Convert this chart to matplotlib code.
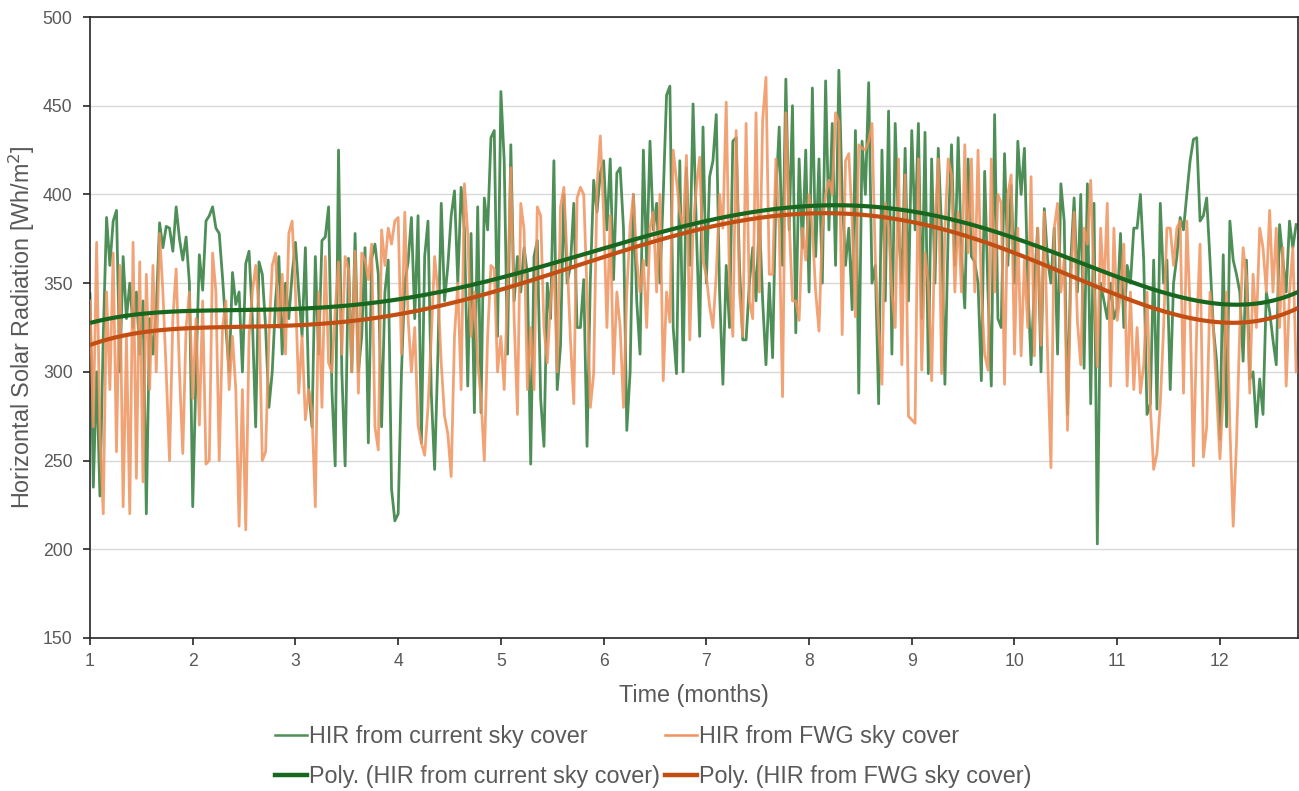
import numpy as np
import matplotlib
matplotlib.use("Agg")
import matplotlib.pyplot as plt
from matplotlib.lines import Line2D

# ---------------- data (daily values) ----------------
hir_current = [
    344, 235, 300, 230, 320, 387, 360, 385, 391, 300, 365, 330, 350, 325, 345, 310,
    340, 220, 330, 310, 335, 384, 370, 382, 381, 368, 393, 375, 363, 376, 350, 224,
    300, 366, 346, 385, 388, 393, 381, 378, 353, 325, 300, 356, 338, 345, 300, 361,
    368, 330, 269, 362, 355, 325, 280, 300, 340, 365, 310, 350, 330, 355, 373, 345,
    320, 370, 290, 269, 365, 310, 374, 376, 393, 290, 247, 425, 300, 247, 364, 300,
    378, 300, 320, 370, 260, 364, 372, 355, 269, 345, 363, 234, 216, 220,
    300, 350, 362, 387, 330, 388, 260, 365, 385, 288, 245, 310, 395, 340, 360, 388,
    402, 350, 404, 380, 292, 378, 277, 393, 277, 398, 380, 432, 436, 320, 458, 419,
    310, 428, 340, 365, 345, 370, 355, 248, 365, 374, 285, 258, 350, 330, 419,
    290, 315, 400, 350, 360, 395, 325, 325, 352, 258, 352, 408, 390, 412, 419, 380,
    420, 352, 412, 415, 381, 267, 300,
    400, 340, 310, 425, 360, 430, 380, 395, 350, 400, 456, 461, 325, 299, 419, 300,
    415, 360, 451, 380, 320, 438, 350, 410,
    419, 445, 345, 293, 360, 325, 430, 432, 360, 318, 318, 350, 370, 340, 388, 340,
    304, 350, 308,
    400, 438, 360, 465, 380, 450, 322, 420, 370, 425, 345, 460, 365, 420, 350, 464,
    380, 440, 360, 470, 400, 360, 381, 335, 436, 288, 430,
    400, 463, 350, 360, 282, 425, 340, 447, 310, 440, 380, 350, 426, 340, 436, 380,
    440, 330, 435, 299, 420, 350, 426, 380, 293, 380, 428, 360, 432, 365, 336, 420,
    365, 362, 350, 295, 413, 345, 292, 445, 330, 325, 423, 360, 405, 350, 430,
    400, 426, 350, 304, 350, 381, 300, 392, 363, 350, 381, 310, 406, 385, 276, 363,
    398, 345, 400, 302, 406, 282, 395, 203, 350, 340, 330, 350, 330, 336, 378, 325,
    360, 350, 381, 381, 400, 363, 276, 282, 363, 279, 395, 350, 363, 290, 350,
    365, 387, 380, 400, 419, 431, 432, 385, 388, 398, 363, 325, 306, 262, 366, 269,
    385, 363, 355, 345, 306, 363, 296, 300, 269, 296, 276, 345, 334, 318, 304, 383,
    363, 345, 385, 370, 383,
]

hir_fwg = [
    340, 269, 373, 265, 220, 345, 290, 367, 255, 360, 224, 320, 220, 373, 240, 362,
    238, 355, 290, 360, 300, 378, 345, 300, 250, 330, 358, 300, 254, 325, 345, 285,
    330, 270, 340, 248, 250, 367, 345, 250, 325, 340, 290, 320, 290, 213, 290, 211,
    320, 345, 360, 335, 250, 255, 320, 360, 367, 325, 355, 310, 378, 385, 345, 288,
    320, 273, 290, 277, 224, 345, 280, 365, 305, 300, 335, 362, 310, 365, 358, 300,
    368, 288, 367, 363, 352, 372, 269, 256, 380, 360, 381, 372, 385, 387,
    310, 390, 330, 300, 325, 270, 260, 253, 280, 320, 365, 345, 305, 275, 265, 241,
    320, 350, 290, 406, 378, 320, 345, 305, 285, 250, 320, 360, 358, 300, 320, 290,
    345, 415, 330, 276, 395, 380, 290, 325, 290, 393, 388, 325, 305, 340, 360,
    300, 393, 404, 363, 318, 282, 398, 404, 400, 345, 280, 299, 404, 433, 390, 325,
    388, 299, 345, 325, 280, 345, 382, 400, 363, 345, 363, 325, 381, 390, 345, 400,
    295, 345, 328, 425, 408, 390, 381, 422, 318, 381, 404, 421, 363, 354, 337,
    325, 355, 400, 381, 452, 350, 320, 436, 345, 320, 440, 340, 330, 446, 345, 442,
    466, 355, 355, 420, 381, 286, 446, 385, 340, 340, 329, 381, 363, 400, 381, 345,
    323, 381, 400, 408, 400, 446, 441, 321, 419, 423, 385, 331, 428, 426,
    425, 430, 440, 363, 325, 293, 395, 381, 345, 325, 420, 304, 411, 275, 273, 271,
    420, 301, 367, 350, 295, 381, 420, 299, 381, 420, 411, 345, 390, 345, 428, 367,
    420, 345, 425, 345, 310, 301, 420, 345, 400, 395, 293, 400, 411, 310, 381,
    309, 363, 325, 410, 309, 381, 315, 390, 309, 246, 381, 395, 345, 363, 267, 350,
    390, 328, 304, 381, 372, 408, 350, 303, 381, 345, 395, 292, 381, 329, 345, 372,
    292, 345, 290, 325, 288, 304, 345, 280, 245, 254, 282, 325, 381, 381, 360,
    381, 385, 288, 385, 335, 247, 325, 372, 252, 269, 345, 325, 288, 251, 288, 345,
    269, 213, 260, 325, 370, 353, 288, 355, 325, 381, 370, 345, 391, 345, 381, 325,
    370, 292, 345, 370, 300,
]

# polynomial trendline values (month -> value)
trend_months = [1.0, 1.5, 2.0, 2.5, 3.0, 3.5, 4.0, 4.5, 5.0, 5.5, 6.0, 6.5, 7.0,
                7.5, 8.0, 8.5, 9.0, 9.5, 10.0, 10.5, 11.0, 11.5, 12.0, 12.5, 12.76]
trend_current = [328, 332, 334, 335, 336, 338, 341, 346, 352, 361, 369, 378, 386,
                 391, 393.5, 393.5, 390, 384, 375, 365, 354, 344, 338, 340, 345]
trend_fwg = [316, 321, 324, 325.5, 327, 329.5, 333, 338.5, 345, 354.5, 364, 373, 382,
             388, 390, 389.5, 384, 376, 366, 355, 344, 334, 328, 330, 336]

month_ticks = list(range(1, 13))
y_ticks = [150, 200, 250, 300, 350, 400, 450, 500]
labels = ["HIR from current sky cover", "HIR from FWG sky cover",
          "Poly. (HIR from current sky cover)", "Poly. (HIR from FWG sky cover)"]

# ---------------- styling ----------------
FONT = ["Liberation Sans", "DejaVu Sans"]
plt.rcParams["font.family"] = FONT
TXT = "#595959"
C_GREEN = "#4E8F58"
C_ORANGE = "#F0935E"
C_GREEN_T = "#17671F"
C_ORANGE_T = "#C24E14"

fig = plt.figure(figsize=(12.99, 7.91), dpi=100)
ax = fig.add_axes([90 / 1299, 1 - 638 / 791, (1298 - 90) / 1299, (638 - 17) / 791])

def days_to_month(n):
    return 1 + np.arange(n) / 31.0

x_g = days_to_month(len(hir_current))
x_f = days_to_month(len(hir_fwg))

ax.plot(x_g, hir_current, color=C_GREEN, lw=2.0, zorder=2)
ax.plot(x_f, hir_fwg, color=C_ORANGE, lw=2.0, alpha=0.85, zorder=3)

# 6th-order polynomial trendlines through the read trend values
xs = np.linspace(trend_months[0], trend_months[-1], 400)
pg = np.polyfit(trend_months, trend_current, 6)
pf = np.polyfit(trend_months, trend_fwg, 6)
ax.plot(xs, np.polyval(pg, xs), color=C_GREEN_T, lw=3.0, zorder=4, solid_capstyle="butt")
ax.plot(xs, np.polyval(pf, xs), color=C_ORANGE_T, lw=3.0, zorder=4, solid_capstyle="butt")

ax.set_xlim(1, 12.76)
ax.set_ylim(150, 500)
ax.set_xticks(month_ticks)
ax.set_yticks(y_ticks)
ax.grid(axis="y", color="#D9D9D9", lw=1.0, zorder=0)
ax.set_axisbelow(True)
for s in ax.spines.values():
    s.set_color("#262626")
    s.set_linewidth(1.2)
ax.tick_params(axis="both", direction="out", length=5, width=1.2, color="#262626",
               labelcolor=TXT, labelsize=12.7)
ax.tick_params(axis="y", pad=7.5)
ax.tick_params(axis="x", pad=6)

ax.set_xlabel("Time (months)", fontsize=16.8, color=TXT, labelpad=10)
ax.set_ylabel("Horizontal Solar Radiation [Wh/m$^2$]", fontsize=16.8, color=TXT, labelpad=4)

# legend entries: two rows, two aligned columns
handles = [Line2D([], [], color=C_GREEN, lw=1.8),
           Line2D([], [], color=C_ORANGE, lw=1.8),
           Line2D([], [], color=C_GREEN_T, lw=3.2),
           Line2D([], [], color=C_ORANGE_T, lw=3.2)]
positions = [(275 / 1299, 1 - 737 / 791), (665 / 1299, 1 - 737 / 791),
             (275 / 1299, 1 - 777 / 791), (665 / 1299, 1 - 777 / 791)]
for h, lab, pos in zip(handles, labels, positions):
    fig.legend([h], [lab], loc="center left", bbox_to_anchor=pos, frameon=False,
               fontsize=16.8, handlelength=1.35, handletextpad=0.1,
               borderpad=0, borderaxespad=0, labelcolor=TXT)

fig.savefig("out.png", dpi=100)
